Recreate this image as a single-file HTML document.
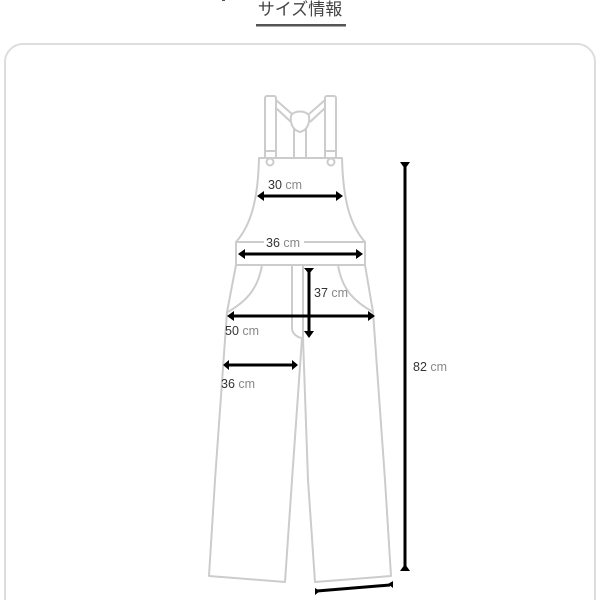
<!DOCTYPE html>
<html><head><meta charset="utf-8"><style>
body{margin:0;width:600px;height:600px;background:#fff;overflow:hidden}
</style></head><body>
<svg width="600" height="600" xmlns="http://www.w3.org/2000/svg" font-family="Liberation Sans, 'Noto Sans CJK JP', sans-serif">
<text x="300" y="15" text-anchor="middle" font-size="17" fill="#444" font-family="'Noto Sans CJK JP', sans-serif">サイズ情報</text>
<rect x="222" y="-3" width="3" height="4" fill="#555"/><rect x="372" y="-3" width="3" height="3" fill="#888"/>
<rect x="256" y="24" width="90" height="2.5" fill="#555"/>
<rect x="5" y="44" width="590" height="580" rx="18" fill="none" stroke="#ddd" stroke-width="2"/>
<g fill="none" stroke="#ccc" stroke-width="2" stroke-linejoin="round">
<path d="M265,158 V98 a2,2 0 0 1 2,-2 h7 a2,2 0 0 1 2,2 V158"/>
<path d="M325,158 V98 a2,2 0 0 1 2,-2 h7 a2,2 0 0 1 2,2 V158"/>
<line x1="265" y1="151" x2="276" y2="151"/><line x1="325" y1="151" x2="336" y2="151"/>
<path d="M276,100 L292,114 M276,108 L291,122"/>
<path d="M325,100 L309,114 M325,108 L310,122"/>
<path d="M300,132 C292,130 290,122 291,116 C293,110 307,110 309,116 C310,122 308,130 300,132 Z"/>
<path d="M294,128 V158 M306,128 V158"/>
<path d="M259,158 H342 C343,200 350,225 365,242 H236 C251,225 258,200 259,158 Z"/>
<circle cx="270" cy="162" r="3.5"/><circle cx="331" cy="162" r="3.5"/>
<rect x="236" y="242" width="129" height="23"/>
<path d="M236,265 L227,312 L215,480 L209,576 L285,582 L292,480 L302,338"/>
<path d="M365,265 L373,312 L385,480 L391,576 L315,582 L308,480 L303,338"/>
<path d="M292,265 V328 C292,334 298,338 303,338 L303,265"/>
<path d="M262,265 C258,290 245,302 228,312"/>
<path d="M338,265 C342,290 355,302 373,312"/>
</g>
<g stroke="#000" stroke-width="3" fill="#000">
<line x1="259" y1="196" x2="341" y2="196"/>
<line x1="240" y1="254" x2="361" y2="254"/>
<line x1="309" y1="270" x2="309" y2="336"/>
<line x1="229" y1="316" x2="373" y2="316"/>
<line x1="225" y1="365" x2="296" y2="365"/>
<line x1="405" y1="165" x2="405" y2="568"/>
<line x1="317" y1="591" x2="390" y2="585"/>
</g>
<g fill="#000">
<path d="M257,196 l7,-5 v10z M343,196 l-7,-5 v10z"/>
<path d="M238,254 l7,-5 v10z M363,254 l-7,-5 v10z"/>
<path d="M309,338 l-5,-7 h10z M304,268 h10 l-5,6z"/>
<path d="M227,316 l7,-5 v10z M375,316 l-7,-5 v10z"/>
<path d="M223,365 l6,-5 v10z M298,365 l-6,-5 v10z"/>
<path d="M400,162 h10 l-5,7z M405,564 l-5,7 h10z"/>
<path d="M315,588 v7 l5,-4z M393,581 v7 l-5,-4z"/>
</g>
<rect x="264" y="236" width="40" height="12" fill="#fff"/>
<g font-size="12.5" fill="#333">
<text x="268" y="189">30 <tspan fill="#888">cm</tspan></text>
<text x="266" y="247">36 <tspan fill="#888">cm</tspan></text>
<text x="314" y="297">37 <tspan fill="#888">cm</tspan></text>
<text x="225" y="335">50 <tspan fill="#888">cm</tspan></text>
<text x="221" y="388">36 <tspan fill="#888">cm</tspan></text>
<text x="413" y="371">82 <tspan fill="#888">cm</tspan></text>
</g>
</svg>
</body></html>
